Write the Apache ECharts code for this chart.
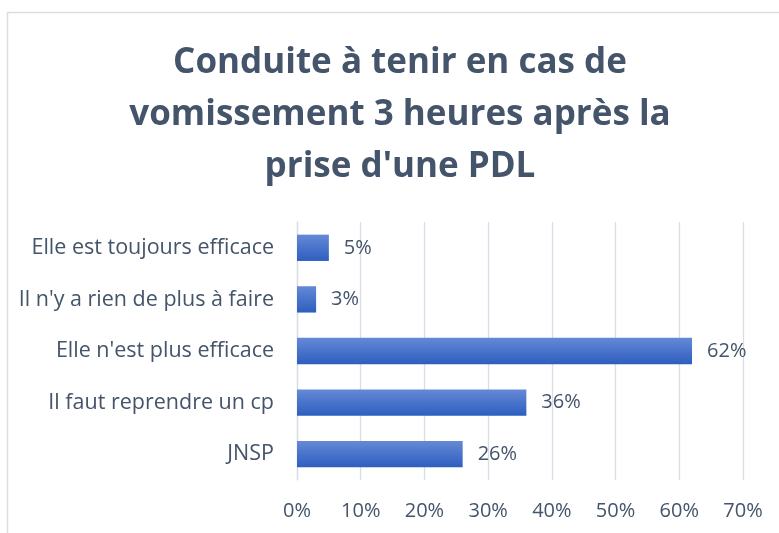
<!DOCTYPE html>
<html>
<head>
    <meta charset="utf-8">
    <script src="https://cdn.jsdelivr.net/npm/echarts@6/dist/echarts.min.js"></script>
    <title>Conduite à tenir</title>
    <style>
        html, body { margin: 0; padding: 0; background: #fff; }
        #main { width: 779px; height: 533px; }
    </style>
</head>
<body>
    <div id="main"></div>
    <script type="text/javascript">
        var categories = [
            'Elle est toujours efficace',
            "Il n'y a rien de plus à faire",
            "Elle n'est plus efficace",
            'Il faut reprendre un cp',
            'JNSP'
        ];
        var values = [5, 3, 62, 36, 26];
        var xTicks = [0, 10, 20, 30, 40, 50, 60, 70];

        var textColor = '#44546A';
        var fontFamily = '"Open Sans", sans-serif';

        var myChart = echarts.init(document.getElementById('main'));

        var option = {
            backgroundColor: '#ffffff',
            animation: false,
            graphic: [{
                type: 'rect',
                shape: { x: 7.5, y: 12.5, width: 820, height: 600 },
                style: { fill: 'none', stroke: '#D9DEE5', lineWidth: 1.5 },
                silent: true
            }],
            title: {
                text: 'Conduite à tenir en cas de\nvomissement 3 heures après la\nprise d\'une PDL',
                left: 400,
                top: 37,
                padding: 0,
                textAlign: 'center',
                textStyle: {
                    color: textColor,
                    fontFamily: fontFamily,
                    fontWeight: 'bold',
                    fontSize: 35,
                    lineHeight: 52
                }
            },
            grid: {
                left: 297,
                right: 36,
                top: 222,
                height: 258,
                containLabel: false
            },
            xAxis: {
                type: 'value',
                min: xTicks[0],
                max: xTicks[xTicks.length - 1],
                interval: 10,
                axisLine: { show: false },
                axisTick: { show: false },
                splitLine: { show: true, lineStyle: { color: '#D9DEE6', width: 1.3 } },
                axisLabel: {
                    color: textColor,
                    fontFamily: fontFamily,
                    fontSize: 20,
                    margin: 21,
                    formatter: '{value}%'
                }
            },
            yAxis: {
                type: 'category',
                inverse: true,
                data: categories,
                axisLine: { show: true, lineStyle: { color: '#D9DEE6', width: 1.3 } },
                axisTick: { show: false },
                axisLabel: {
                    color: textColor,
                    fontFamily: fontFamily,
                    fontSize: 21.5,
                    margin: 23
                }
            },
            series: [{
                type: 'bar',
                data: values,
                barWidth: '51%',
                itemStyle: {
                    color: new echarts.graphic.LinearGradient(0, 0, 0, 1, [
                        { offset: 0, color: '#6589D6' },
                        { offset: 1, color: '#2D5EBF' }
                    ])
                },
                label: {
                    show: true,
                    position: 'right',
                    distance: 15,
                    color: textColor,
                    fontFamily: fontFamily,
                    fontSize: 20,
                    formatter: '{c}%'
                }
            }]
        };

        myChart.setOption(option);
    </script>
</body>
</html>
